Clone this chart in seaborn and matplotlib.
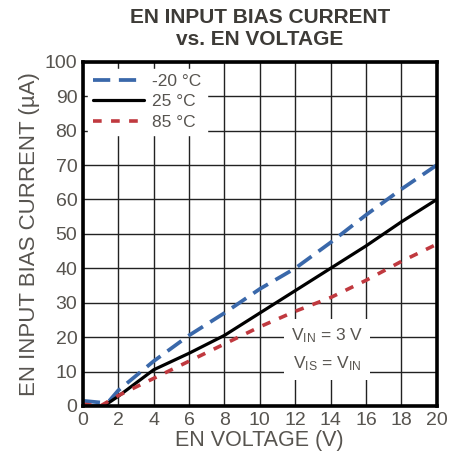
import numpy as np
import pandas as pd
import matplotlib
matplotlib.use("Agg")
import matplotlib.pyplot as plt
import seaborn as sns

# values
voltage_cold = [0, 1, 1.5, 2, 4, 6, 8, 10, 12, 14, 16, 18, 20]
current_cold = [1.5, 1, 1.5, 4.5, 13, 20.5, 27, 34, 40, 47.5, 55.5, 63, 70]
voltage_room = [0, 1.2, 2, 4, 6, 8, 10, 12, 14, 16, 18, 20]
current_room = [0, 0, 2.8, 10.5, 15.3, 20.5, 27, 33.5, 40, 46.5, 53.5, 60]
voltage_hot = [0, 1, 2, 4, 6, 8, 10, 12, 14, 16, 18, 20]
current_hot = [0.5, 0, 3, 8, 13, 18, 23, 27.5, 31.5, 36.5, 42, 47]
labels = ["-20 °C", "25 °C", "85 °C"]
x_ticks = list(range(0, 21, 2))
y_ticks = list(range(0, 101, 10))

sns.set_style("white")
plt.rcParams['font.family'] = ['Liberation Sans', 'DejaVu Sans']
plt.rcParams['mathtext.default'] = 'regular'

txt = "#57544f"
fig = plt.figure(figsize=(4.55, 4.65), dpi=100)
ax = fig.add_axes([0.182, 0.127, 0.778, 0.740])

sns.lineplot(x=voltage_cold, y=current_cold, ax=ax, color="#3a68aa", lw=2.7,
             label=labels[0])
sns.lineplot(x=voltage_room, y=current_room, ax=ax, color="black", lw=2.3,
             label=labels[1])
sns.lineplot(x=voltage_hot, y=current_hot, ax=ax, color="#c0393f", lw=2.6,
             label=labels[2])
ax.lines[0].set_dashes([4.6, 2.3])
ax.lines[2].set_dashes([2.4, 2.6])

ax.set_xlim(0, 20)
ax.set_ylim(0, 100)
ax.set_xticks(x_ticks)
ax.set_yticks(y_ticks)
ax.grid(True, color="#222222", lw=1.0)
ax.set_axisbelow(True)
ax.tick_params(length=0, labelsize=14, labelcolor=txt, pad=4)
for s in ax.spines.values():
    s.set_color("black")
    s.set_linewidth(2.6)

ax.set_xlabel("EN VOLTAGE (V)", fontsize=15.5, color=txt, labelpad=1)
ax.set_ylabel("EN INPUT BIAS CURRENT (µA)", fontsize=16, color=txt, labelpad=3)
ax.set_title("EN INPUT BIAS CURRENT\nvs. EN VOLTAGE", fontsize=15, fontweight="bold",
             color="#3d3b37", pad=12, linespacing=1.2)

leg = ax.legend(loc="upper left", bbox_to_anchor=(0.0, 0.995), frameon=True,
                fontsize=12.5, handlelength=2.9, handletextpad=0.5,
                labelspacing=0.3, borderaxespad=0.3, borderpad=0.3)
leg.get_frame().set_facecolor("white")
leg.get_frame().set_edgecolor("white")
leg.get_frame().set_alpha(1)
for t in leg.get_texts():
    t.set_color(txt)

ax.text(13.8, 16.3, "V$_{IN}$ = 3 V\nV$_{IS}$ = V$_{IN}$", fontsize=12.5, color=txt,
        ha="center", va="center", linespacing=1.7,
        bbox=dict(facecolor="white", edgecolor="none", pad=5))

fig.savefig("out.png", dpi=100)
